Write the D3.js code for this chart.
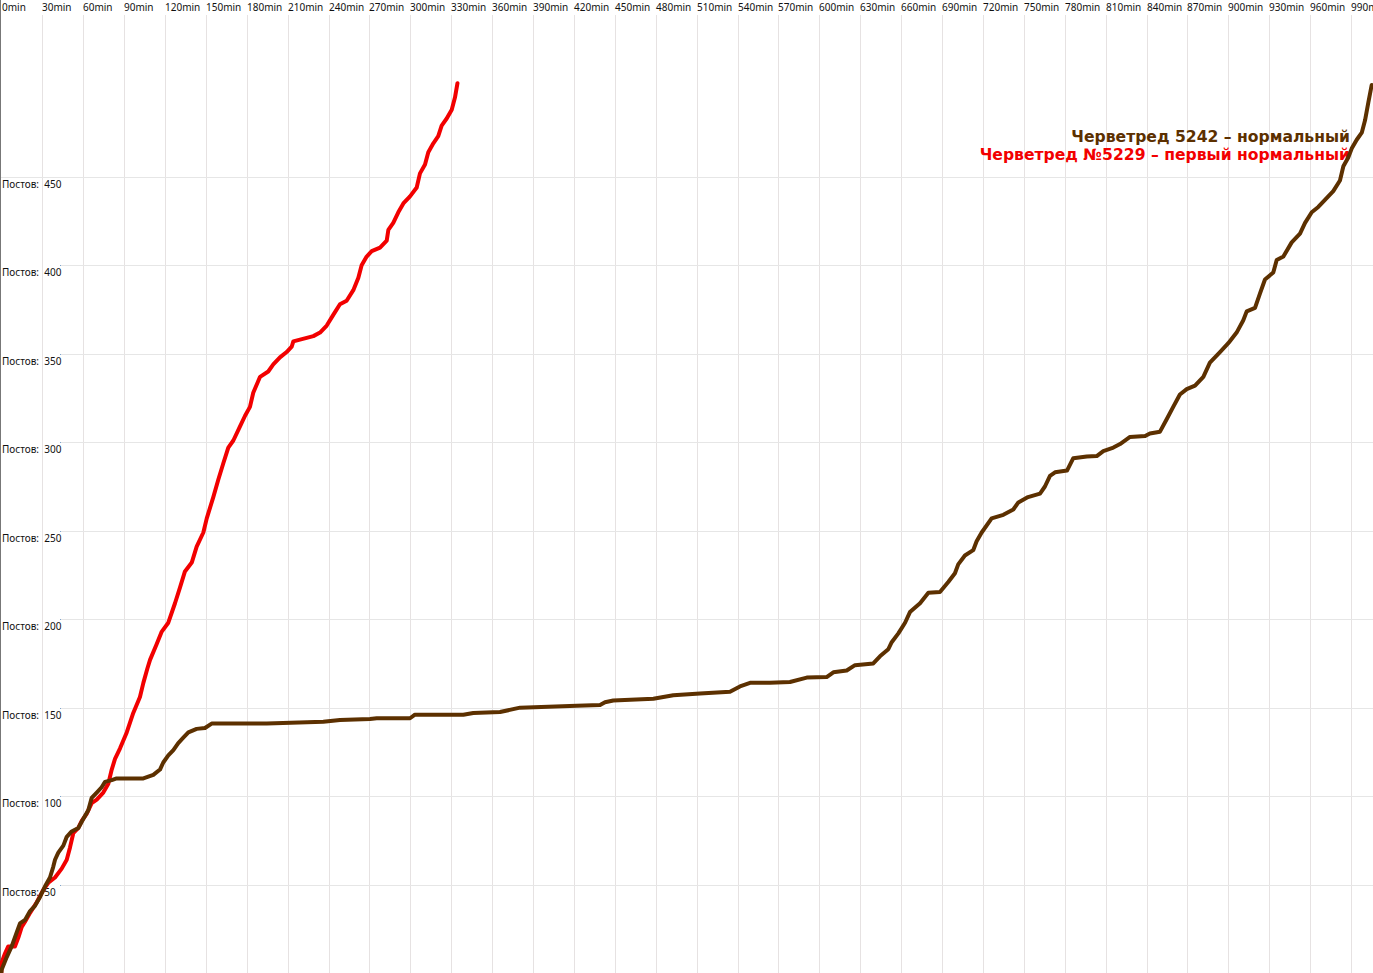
<!DOCTYPE html>
<html>
<head>
<meta charset="utf-8">
<script src="https://cdn.jsdelivr.net/npm/d3@7/dist/d3.min.js"></script>
<style>
html,body{margin:0;padding:0;background:#fff;overflow:hidden;}
svg{display:block;}
</style>
</head>
<body>
<svg id="chart" width="1373" height="973"></svg>
<script>
// ---- data ----
const xTicks = d3.range(0, 991, 30);              // minutes
const yTicks = [50, 100, 150, 200, 250, 300, 350, 400, 450]; // posts
const seriesNames = ["Черветред №5229 – первый нормальный", "Черветред 5242 – нормальный"];
const seriesColors = ["#f20000", "#5c3000"];

// [minutes, posts]
const red5229 = [
 [0,0],[0.3,6],[2.7,11],[5.1,15],[10,15],[12.5,20],[15,26],[17.4,29],[21.1,34],[26,40],
 [30.8,47],[34.5,51],[39.4,54],[44.3,59],[48,64],[50.4,71],[52.8,79],[56.5,82],[59,86],
 [62.6,90],[66.3,96],[70,98],[74.8,102],[78.5,107],[81,115],[83.4,121],[87.1,127],[92,136],
 [96.8,147],[101.7,156],[104.2,164],[107.1,172],[109.1,177],[114,186],[117.7,193],[122.5,198],
 [127.4,209],[131.1,218],[134.7,227],[139.7,232],[143.3,241],[148.2,249],[150.7,257],[155.5,269],
 [159.2,279],[162.8,288],[166.5,297],[170.2,301],[175.1,309],[178.8,315],[182.4,320],[184.8,328],
 [189.8,337],[195.8,340],[199.5,344],[204.4,348],[209.3,351],[213,354],[214.2,357],[219.1,358],
 [224,359],[228.9,360],[233.8,362],[238.7,366],[243.5,372],[248.4,378],[253.3,380],[258.2,386],
 [261.9,393],[264.3,400],[268,405],[271.7,408],[277.8,410],[282.7,414],[283.9,420],[287.5,424],
 [291.2,430],[294.9,435],[299.8,439],[304.7,444],[307.1,452],[310.8,457],[313.2,464],[316.9,469],
 [320.5,473],[323,479],[326.7,483],[330.4,488],[332.8,495],[334.6,503]
];
const brown5242 = [
 [0,0],[0.3,2],[4,9],[7.6,15],[11.3,23],[13.7,28],[17.4,30],[21.1,35],[24.7,38],[28.4,43],
 [32.1,49],[35.7,54],[38.1,60],[39.4,64],[41.8,68],[45.5,72],[48,77],[51.6,80],[56.5,82],
 [60.1,87],[63.8,92],[66.3,99],[70,102],[73.6,105],[76.1,108],[81,109],[84.6,110],[104.2,110],
 [111.5,112],[116.4,115],[118.8,119],[122.5,123],[126.2,126],[129.8,130],[133.5,133],[137.2,136],
 [143.3,138],[149.4,138.5],[154.3,141],[194.7,141],[236.2,142],[248.4,143],[270.4,143.6],[275.4,144],
 [299.8,144],[303.4,146],[338.9,146],[346.2,147],[365.8,147.5],[380.5,150],[422.1,151],[439.2,151.5],
 [442.8,153],[448.9,154],[478.3,155],[492.9,157],[512.5,158],[534.5,159],[541.8,162],[549.2,164],
 [563.8,164],[578.5,164.5],[590.8,167],[605.4,167.3],[610.3,170],[620.1,171],[626.2,174],[639.6,175],
 [644.5,179],[650.6,183],[653.1,187],[658,192],[662.9,198],[666.5,204],[673.9,209],[680,215],
 [688.5,215.4],[694.6,221],[699.5,226],[701.9,231],[706.8,236],[712.9,239],[715.4,244],[719.1,249],
 [726.4,257],[735,259],[742.3,262],[746,266],[753.1,269],[761.9,271],[765.5,275],[769.2,281],
 [772.9,283],[781.7,284],[786.3,291],[796.2,292],[803.5,292.2],[808.3,295],[815.7,297],[820.6,299],
 [827.9,303],[839,303.6],[842.5,305],[849.9,306],[854.8,313],[859.6,320],[864.5,327],[869.5,330],
 [875.6,332],[881.7,337],[886.5,345],[893.9,351],[900,356],[906.1,362],[911,369],[913.5,374],
 [919.6,376],[923.2,384],[926.9,392],[933,396],[935.5,403],[940.4,405],[946.5,413],[952.6,418],
 [956.3,424],[961.2,430],[966,433],[970.9,437],[977,442],[981.9,448],[984.4,456],[988,461],
 [990.5,466],[994.2,471],[997.9,475],[1000.3,482],[1002.7,492],[1005.2,502]
];

// ---- layout ----
const W = 1373, H = 973;
const svg = d3.select("#chart");
const x = d3.scaleLinear().domain([0, 990]).range([1.3, 1.3 + 33 * 40.9]);
const y = d3.scaleLinear().domain([0, 550]).range([H, 0]);

// vertical grid
svg.append("g").selectAll("line").data(xTicks.filter(d => d > 0)).join("line")
  .attr("x1", d => Math.round(x(d)) + 0.5).attr("x2", d => Math.round(x(d)) + 0.5)
  .attr("y1", 15).attr("y2", H)
  .attr("stroke", "#e6e2e2").attr("stroke-width", 1);

// horizontal grid
svg.append("g").selectAll("line").data(yTicks).join("line")
  .attr("x1", d => d === 450 ? 0 : 60).attr("x2", W)
  .attr("y1", d => Math.round(y(d)) + 0.5).attr("y2", d => Math.round(y(d)) + 0.5)
  .attr("stroke", "#e6e6e6").attr("stroke-width", 1);
svg.append("g").selectAll("rect").data(yTicks.filter(d => d !== 450)).join("rect")
  .attr("x", 60).attr("y", d => Math.round(y(d))).attr("width", 1).attr("height", 1)
  .attr("fill", "#7fa6cf");

// left axis line
svg.append("line").attr("x1", 0.5).attr("x2", 0.5).attr("y1", 0).attr("y2", H)
  .attr("stroke", "#777").attr("stroke-width", 1);

// top labels
svg.append("g").selectAll("text").data(xTicks).join("text")
  .attr("x", d => Math.round(x(d)) + (d === 0 ? 1 : 0)).attr("y", 11)
  .attr("font-family", "'Noto Sans', 'DejaVu Sans', sans-serif").attr("font-size", 10)
  .attr("fill", "#111")
  .text(d => d + "min");

// y labels
svg.append("g").selectAll("text").data(yTicks).join("text")
  .attr("x", 2).attr("y", d => y(d) + 11)
  .attr("font-family", "'Noto Sans', 'DejaVu Sans', sans-serif").attr("font-size", 10)
  .attr("fill", "#111")
  .style("white-space", "pre")
  .text(d => "Постов:  " + d);

// lines
const line = d3.line().x(d => x(d[0])).y(d => y(d[1]));
svg.append("path").datum(red5229).attr("d", line)
  .attr("fill", "none").attr("stroke", seriesColors[0]).attr("stroke-width", 4)
  .attr("stroke-linejoin", "round").attr("stroke-linecap", "round");

// legend
const legend = svg.append("g")
  .attr("font-family", "'DejaVu Sans', Verdana, sans-serif").attr("font-weight", "bold")
  .attr("font-size", 15.6).attr("text-anchor", "end");
legend.append("text").attr("x", 1350).attr("y", 142).attr("fill", seriesColors[1]).text(seriesNames[1]);
legend.append("text").attr("x", 1350).attr("y", 160).attr("fill", seriesColors[0]).text(seriesNames[0]);

svg.append("path").datum(brown5242).attr("d", line)
  .attr("fill", "none").attr("stroke", seriesColors[1]).attr("stroke-width", 4)
  .attr("stroke-linejoin", "round").attr("stroke-linecap", "round");
</script>
</body>
</html>
